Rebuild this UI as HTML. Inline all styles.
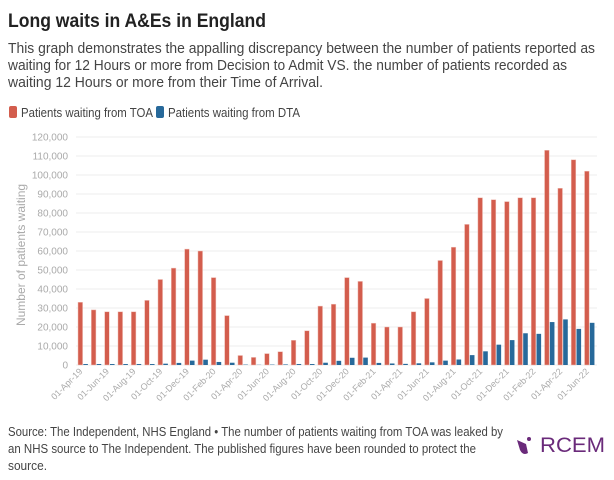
<!DOCTYPE html>
<html><head><meta charset="utf-8"><style>
body{margin:0;background:#fff;}
svg{display:block;font-family:"Liberation Sans",sans-serif;}
</style></head><body>
<svg id="chart" width="614" height="480" viewBox="0 0 614 480">
<text x="8" y="27" font-size="19.5" font-weight="bold" fill="#222" textLength="258" lengthAdjust="spacingAndGlyphs">Long waits in A&amp;Es in England</text>
<g fill="#444" font-size="15">
<text x="8" y="53" textLength="587" lengthAdjust="spacingAndGlyphs">This graph demonstrates the appalling discrepancy between the number of patients reported as</text>
<text x="8" y="70" textLength="559" lengthAdjust="spacingAndGlyphs">waiting for 12 Hours or more from Decision to Admit VS. the number of patients recorded as</text>
<text x="8" y="87" textLength="315" lengthAdjust="spacingAndGlyphs">waiting 12 Hours or more from their Time of Arrival.</text>
</g>
<g>
<g><rect x="9" y="106" width="8" height="12" rx="2" fill="#d35d4d"/><text x="21" y="117" font-size="13" fill="#444" textLength="132" lengthAdjust="spacingAndGlyphs">Patients waiting from TOA</text></g>
<g><rect x="156" y="106" width="8" height="12" rx="2" fill="#27699a"/><text x="168" y="117" font-size="13" fill="#444" textLength="132" lengthAdjust="spacingAndGlyphs">Patients waiting from DTA</text></g>
</g>
<text transform="translate(25,255) rotate(-90)" text-anchor="middle" font-size="12" fill="#aaa">Number of patients waiting</text>
<g id="grid"></g><g id="bars"></g><g id="xlabels"></g>
<g fill="#444" font-size="13">
<text x="8" y="436" textLength="495" lengthAdjust="spacingAndGlyphs">Source: The Independent, NHS England • The number of patients waiting from TOA was leaked by</text>
<text x="8" y="453" textLength="468" lengthAdjust="spacingAndGlyphs">an NHS source to The Independent. The published figures have been rounded to protect the</text>
<text x="8" y="470" textLength="39" lengthAdjust="spacingAndGlyphs">source.</text>
</g>
<g>
<path d="M517 440 L526 444 L528 453 Q523 456 520 450 Z" fill="#6a2a7a"/>
<circle cx="529" cy="439" r="2" fill="#6a2a7a"/>
<text x="540" y="452" font-size="21" fill="#6a2a7a" textLength="65" lengthAdjust="spacingAndGlyphs">RCEM</text>
</g>
</svg>
<script>
const months=["01-Apr-19","01-May-19","01-Jun-19","01-Jul-19","01-Aug-19","01-Sep-19","01-Oct-19","01-Nov-19","01-Dec-19","01-Jan-20","01-Feb-20","01-Mar-20","01-Apr-20","01-May-20","01-Jun-20","01-Jul-20","01-Aug-20","01-Sep-20","01-Oct-20","01-Nov-20","01-Dec-20","01-Jan-21","01-Feb-21","01-Mar-21","01-Apr-21","01-May-21","01-Jun-21","01-Jul-21","01-Aug-21","01-Sep-21","01-Oct-21","01-Nov-21","01-Dec-21","01-Jan-22","01-Feb-22","01-Mar-22","01-Apr-22","01-May-22","01-Jun-22"];
const toa=[33000,29000,28000,28000,28000,34000,45000,51000,61000,60000,46000,26000,5000,4000,6000,7000,13000,18000,31000,32000,46000,44000,22000,20000,20000,28000,35000,55000,62000,74000,88000,87000,86000,88000,88000,113000,93000,108000,102000];
const dta=[500,500,500,500,500,500,700,1100,2300,2800,1600,1200,200,100,200,300,500,500,1200,2200,3800,3900,1100,800,600,900,1400,2300,2900,5200,7200,10700,13100,16700,16400,22600,24000,19000,22200];
const yTicks=[0,10000,20000,30000,40000,50000,60000,70000,80000,90000,100000,110000,120000];
const NS="http://www.w3.org/2000/svg";
const y0=365,yTop=137,yMax=120000,xL=76,xR=597,band=13.33,x0=78;
const y=v=>y0-(v/yMax)*(y0-yTop);
const bx=i=>x0+i*band;
function mk(t,a,p){const e=document.createElementNS(NS,t);for(const k in a)e.setAttribute(k,a[k]);p.appendChild(e);return e;}
const grid=document.getElementById('grid');
yTicks.forEach(v=>{
 const l=mk('line',{x1:xL,x2:xR,y1:y(v),y2:y(v),stroke:'#eeeeee','stroke-width':1},grid);
 
 
 const t=mk('text',{x:68,y:y(v)+3.5,'text-anchor':'end','font-size':'10',fill:'#aaa'},grid);
 t.textContent=v.toLocaleString('en-US');
 
 
});
const bars=document.getElementById('bars');
months.forEach((m,i)=>{
 const r=mk('rect',{x:bx(i),y:y(toa[i]),width:4.6,height:y0-y(toa[i]),fill:'#d35d4d',stroke:'#f0c0b8','stroke-width':0.5},bars);
 
 
 const b=mk('rect',{x:bx(i)+5.3,y:y(dta[i]),width:4.6,height:y0-y(dta[i]),fill:'#27699a'},bars);
 
 
});
const xl=document.getElementById('xlabels');
months.forEach((m,i)=>{
 if(i%2)return;
 const cx=bx(i)+5;
 const t=mk('text',{x:cx,y:372,'text-anchor':'end','font-size':'9',fill:'#aaa',transform:`rotate(-45 ${cx} 372)`},xl);
 t.textContent=m;
 
 
});
</script>
</body></html>
